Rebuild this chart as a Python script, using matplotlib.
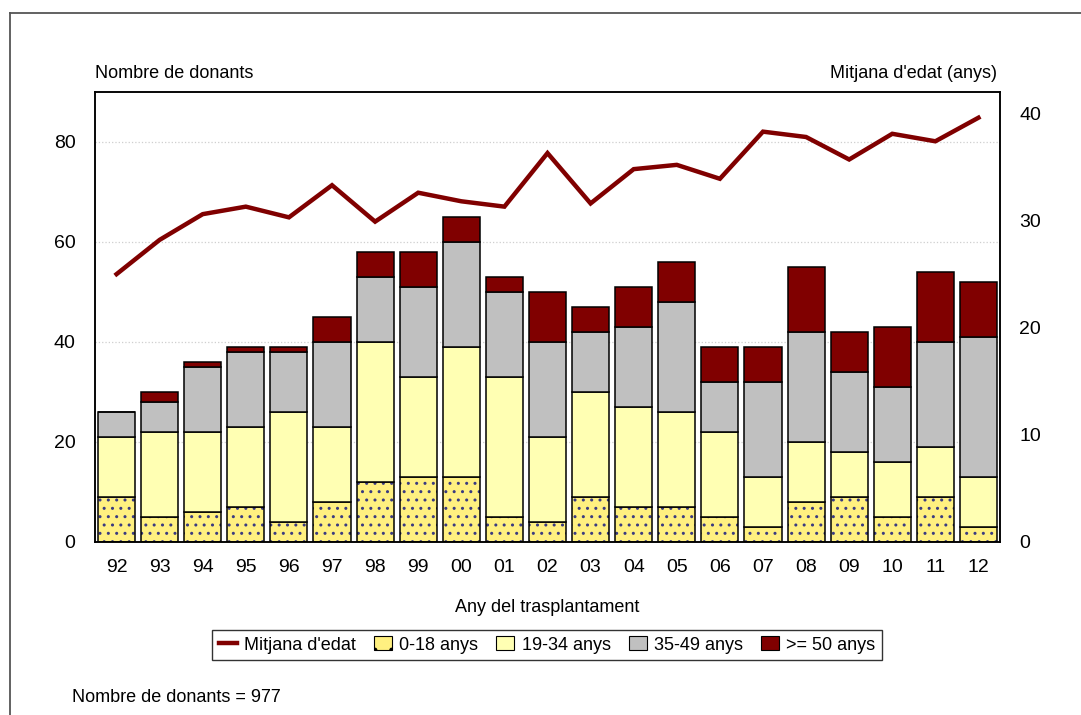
import matplotlib
matplotlib.use("Agg")
import matplotlib.pyplot as plt
from matplotlib.patches import Patch
from matplotlib.lines import Line2D
import numpy as np

years = ["92", "93", "94", "95", "96", "97", "98", "99", "00", "01", "02",
         "03", "04", "05", "06", "07", "08", "09", "10", "11", "12"]
age_0_18 = [9, 5, 6, 7, 4, 8, 12, 13, 13, 5, 4, 9, 7, 7, 5, 3, 8, 9, 5, 9, 3]
age_19_34 = [12, 17, 16, 16, 22, 15, 28, 20, 26, 28, 17, 21, 20, 19, 17, 10, 12, 9, 11, 10, 10]
age_35_49 = [5, 6, 13, 15, 12, 17, 13, 18, 21, 17, 19, 12, 16, 22, 10, 19, 22, 16, 15, 21, 28]
age_50p = [0, 2, 1, 1, 1, 5, 5, 7, 5, 3, 10, 5, 8, 8, 7, 7, 13, 8, 12, 14, 11]
mean_age = [25.0, 28.2, 30.6, 31.3, 30.3, 33.3, 29.9, 32.6, 31.8, 31.3, 36.3,
            31.6, 34.8, 35.2, 33.9, 38.3, 37.8, 35.7, 38.1, 37.4, 39.6]

labels = ["Mitjana d'edat", "0-18 anys", "19-34 anys", "35-49 anys", ">= 50 anys"]
c_0_18 = "#FFF080"
c_19_34 = "#FFFFB3"
c_35_49 = "#C0C0C0"
c_50 = "#800000"
c_line = "#800000"
dot_col = "#3A3A80"

plt.rcParams['font.family'] = ['Liberation Sans', 'DejaVu Sans']
plt.rcParams['hatch.linewidth'] = 1.0
FS = 13

fig = plt.figure(figsize=(10.81, 7.15), dpi=100)
W, H = 1081, 715
ax = fig.add_axes([95 / W, 1 - 542 / H, (1000 - 95) / W, (542 - 92) / H])
ax2 = ax.twinx()

x = np.arange(len(years))
bw = 0.86
b1 = np.array(age_0_18)
b2 = np.array(age_19_34)
b3 = np.array(age_35_49)
b4 = np.array(age_50p)

ax.set_axisbelow(True)
ax.grid(axis='y', color='#cfcfcf', linestyle=':', linewidth=0.9)
# hatched 0-18
ax.bar(x, b1, bw, color=c_0_18, edgecolor=dot_col, hatch='..', linewidth=0, zorder=2)
ax.bar(x, b1, bw, fill=False, edgecolor='black', linewidth=1.1, zorder=3)
ax.bar(x, b2, bw, bottom=b1, color=c_19_34, edgecolor='black', linewidth=1.1, zorder=3)
ax.bar(x, b3, bw, bottom=b1 + b2, color=c_35_49, edgecolor='black', linewidth=1.1, zorder=3)
ax.bar(x, b4, bw, bottom=b1 + b2 + b3, color=c_50, edgecolor='black', linewidth=1.1, zorder=3)

ax.set_xlim(-0.5, len(years) - 0.5)
ax.set_ylim(0, 90)
ax.set_yticks([0, 20, 40, 60, 80])
ax.set_xticks(x)
ax.set_xticklabels(years)
ax.tick_params(axis='y', length=0, pad=14, labelsize=FS + 1)
ax.tick_params(axis='x', length=0, pad=12, labelsize=FS + 1)

ax2.plot(x, mean_age, color=c_line, linewidth=3.2, solid_joinstyle='miter', zorder=5)
ax2.set_ylim(0, 42)
ax2.set_yticks([0, 10, 20, 30, 40])
ax2.tick_params(axis='y', length=0, pad=14, labelsize=FS + 1)

for a in (ax, ax2):
    for s in a.spines.values():
        s.set_color('black')
        s.set_linewidth(1.1)

fig.text(95 / W, 1 - 74 / H, "Nombre de donants", fontsize=FS, ha='left', va='center')
fig.text(997 / W, 1 - 74 / H, "Mitjana d'edat (anys)", fontsize=FS, ha='right', va='center')
fig.text(547 / W, 1 - 607 / H, "Any del trasplantament", fontsize=FS, ha='center', va='center')
fig.text(72 / W, 1 - 697 / H, "Nombre de donants = 977", fontsize=FS, ha='left', va='center')

handles = [
    Line2D([0], [0], color=c_line, linewidth=3.2),
    Patch(facecolor=c_0_18, edgecolor='black', hatch='.', linewidth=0.8),
    Patch(facecolor=c_19_34, edgecolor='black', linewidth=0.8),
    Patch(facecolor=c_35_49, edgecolor='black', linewidth=0.8),
    Patch(facecolor=c_50, edgecolor='black', linewidth=0.8),
]
leg = fig.legend(handles, labels, loc='center', bbox_to_anchor=(547 / W, 1 - 645 / H),
                 ncol=5, frameon=True, fancybox=False, fontsize=FS,
                 handlelength=1.0, handleheight=0.8, handletextpad=0.4,
                 columnspacing=1.0, borderpad=0.35, borderaxespad=0)
leg.get_frame().set_edgecolor('black')
leg.get_frame().set_linewidth(1.0)

# outer frame (cut at right and bottom)
fig.add_artist(Line2D([10 / W, 1.0], [1 - 13 / H, 1 - 13 / H], color='#555555', linewidth=1.3))
fig.add_artist(Line2D([10 / W, 10 / W], [1 - 13 / H, 0.0], color='#555555', linewidth=1.3))

fig.savefig("out.png", dpi=100)
